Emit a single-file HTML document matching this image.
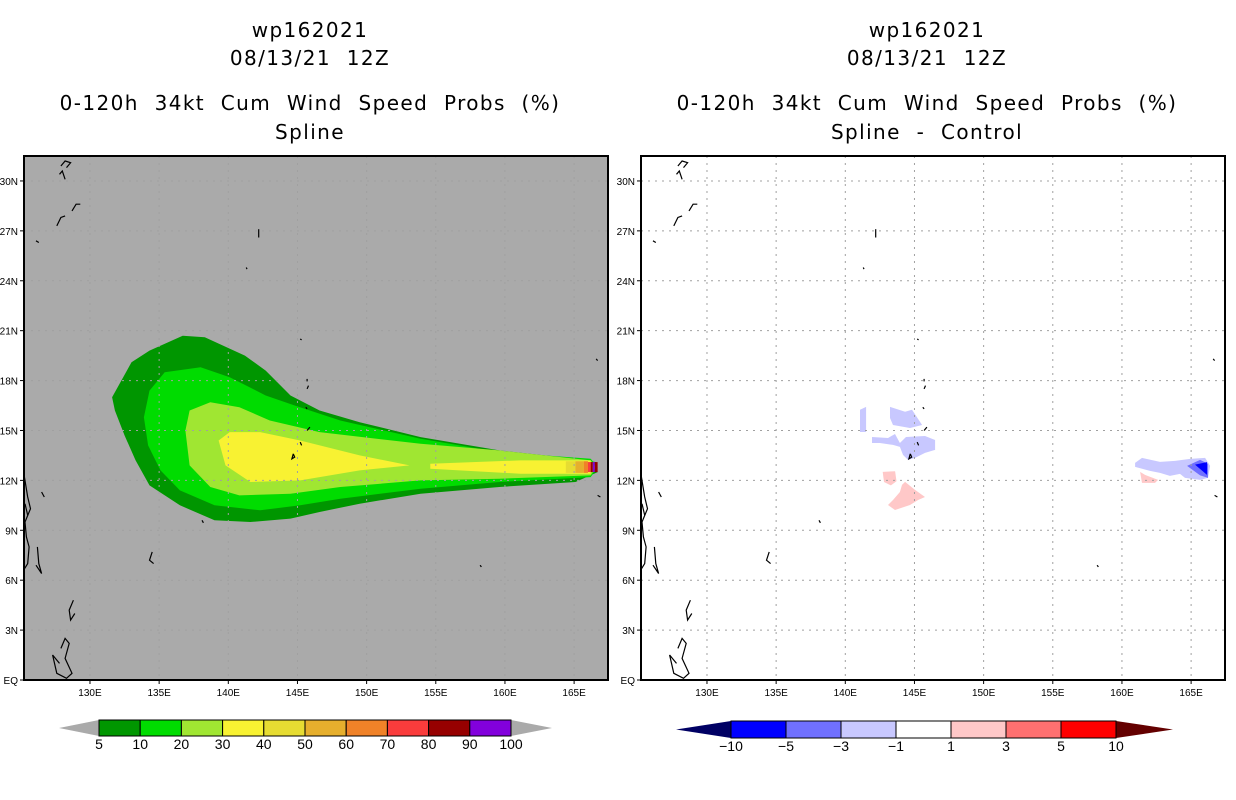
<!DOCTYPE html>
<html><head><meta charset="utf-8">
<style>
html,body{margin:0;padding:0;background:#fff;}
svg{display:block;font-family:"Liberation Sans",sans-serif;}
.title{font-family:"DejaVu Sans","Liberation Sans",sans-serif;font-size:20px;fill:#000;text-anchor:middle;letter-spacing:1.4px;word-spacing:8px;}
.tick{font-size:10px;fill:#000;}
.cbl{font-size:14px;fill:#000;text-anchor:middle;}
</style></head>
<body>
<svg id="chart" width="1236" height="800" viewBox="0 0 1236 800"></svg>
<script>
// ---- data ----
const lonTicks = [130,135,140,145,150,155,160,165];
const latTicks = [0,3,6,9,12,15,18,21,24,27,30];
const latLabels = ["EQ","3N","6N","9N","12N","15N","18N","21N","24N","27N","30N"];
const probLevels = ["5","10","20","30","40","50","60","70","80","90","100"];
const probColors = ["#009600","#00dc00","#a0e632","#f8f232","#e6dc32","#e6af2d","#f08228","#fa3c3c","#960000","#8200dc"];
const diffLevels = ["-10","-5","-3","-1","1","3","5","10"];
const diffColors = ["#0000ff","#7070ff","#c8c8ff","#ffffff","#ffc8c8","#ff7070","#ff0000"];

// contour polygons (lon, lat)
const prob5Lon = [131.6,133.0,134.3,136.7,138.3,141.2,142.7,144.5,146.6,149.5,153.9,159.6,165.1,166.6,166.7,165.1,159.6,153.9,149.5,146.6,144.5,141.6,139.0,136.5,134.3,133.3,132.5,131.8];
const prob5Lat = [17.0,19.1,19.8,20.7,20.6,19.5,18.6,17.1,16.2,15.5,14.6,13.8,13.3,13.1,12.5,11.9,11.6,11.2,10.6,10.1,9.7,9.5,9.6,10.5,11.7,13.2,14.7,16.2];
const prob10Lon = [133.9,134.3,135.4,138.0,140.1,142.7,144.8,148.1,153.9,159.6,166.2,166.7,166.2,159.6,153.9,148.1,145.2,142.3,139.0,136.5,135.1,134.2];
const prob10Lat = [15.8,17.4,18.5,18.8,18.2,17.1,16.5,15.6,14.5,13.7,13.3,12.8,12.2,11.9,11.5,10.9,10.5,10.2,10.5,11.4,12.6,14.1];
const prob20Lon = [136.9,137.2,138.7,140.8,143.0,146.6,153.9,159.6,166.2,166.6,166.2,159.6,153.9,148.1,144.5,140.8,138.7,137.2];
const prob20Lat = [15.0,16.2,16.7,16.4,15.6,14.9,14.2,13.8,13.2,12.8,12.3,12.1,12.0,11.6,11.2,11.1,11.6,12.9];
const prob30aLon = [139.3,140.1,142.3,145.2,149.5,153.1,149.5,145.2,141.6,139.8];
const prob30aLat = [14.4,14.9,14.9,14.4,13.5,12.9,12.6,12.0,11.9,12.9];
const prob30bLon = [154.6,161.1,166.2,166.2,161.1,154.6];
const prob30bLat = [13.0,13.2,13.2,12.4,12.4,12.7];
// core bands near the end of the track: [lonStart, lonEnd, level index]
const coreLon0 = [164.4,165.1,165.7,166.0,166.2,166.35,166.5];
const coreLon1 = [165.1,165.7,166.0,166.2,166.35,166.5,166.7];
const coreLev  = [4,5,6,7,8,9,8];

// difference patches (lon, lat)
const dA_lon=[143.23,144.32,144.82,145.55,144.68,143.45,143.23]; const dA_lat=[16.42,16.12,16.24,15.33,15.15,15.33,15.75];
const dB_lon=[141.06,141.5,141.5,141.06]; const dB_lat=[16.24,16.42,14.91,14.91];
const dC_lon=[141.93,143.09,143.59,143.95,144.39,145.76,146.49,146.49,145.76,145.04,144.53,144.17,143.95,143.45,142.5,141.93];
const dC_lat=[14.61,14.55,14.79,14.25,14.61,14.67,14.43,13.83,13.65,13.35,13.23,13.53,14.01,14.13,14.25,14.25];
const dD_lon=[142.7,143.6,143.7,143.3,142.8]; const dD_lat=[12.51,12.55,11.95,11.7,11.9];
const dF_lon=[144.32,145.04,145.76,145.26,144.68,143.59,143.09,143.45,143.95,144.1]; const dF_lat=[11.91,11.43,11.0,10.82,10.52,10.22,10.52,10.82,11.3,11.73];
const dE_lon=[160.95,161.45,162.75,163.84,164.92,166.01,166.37,166.22,165.65,164.56,164.2,163.47,162.75,162.03,160.95];
const dE_lat=[13.05,13.35,13.11,13.17,13.29,13.35,12.87,12.15,12.03,12.15,12.39,12.27,12.45,12.57,12.81];
const dG_lon=[164.71,165.65,166.22,166.22,165.65]; const dG_lat=[12.87,13.23,13.0,12.15,12.3];
const dH_lon=[165.28,166.15,166.15]; const dH_lat=[12.95,13.1,12.33];
const dR_lon=[161.31,161.67,162.61,162.39,161.45]; const dR_lat=[12.51,12.33,12.03,11.85,11.85];

// ---- drawing ----
const NS="http://www.w3.org/2000/svg";
const svg=document.getElementById('chart');
function el(tag,attrs,parent){const e=document.createElementNS(NS,tag);for(const k in attrs)e.setAttribute(k,attrs[k]);(parent||svg).appendChild(e);return e;}
const PW=584, PH=524, PY=156, LON0=125.23, LON1=167.45, LAT0=0, LAT1=31.5;
function xS(ox,lon){return ox+(lon-LON0)/(LON1-LON0)*PW;}
function yS(lat){return PY+PH-(lat-LAT0)/(LAT1-LAT0)*PH;}
function poly(g,ox,lons,lats,fill,name){
  const p=el('polygon',{points:lons.map((l,i)=>xS(ox,l).toFixed(1)+','+yS(lats[i]).toFixed(1)).join(' '),fill:fill},g);
  
  
  return p;
}
const coasts=[
 [[127.9,30.9],[128.2,31.2],[128.6,31.1],[128.3,30.8]],[[127.8,30.4],[128.0,30.6],[128.2,30.1]],
 [[128.7,28.2],[129.0,28.6],[129.3,28.6]],[[127.6,27.3],[127.9,27.8],[128.2,27.9]],[[126.1,26.4],[126.3,26.3]],
 [[142.2,27.1],[142.2,26.6]],[[141.3,24.8],[141.35,24.7]],
 [[125.2,12.5],[125.5,11.0],[125.7,10.3],[125.3,9.5],[125.4,8.6],[125.6,8.0],[125.5,7.0],[125.2,6.6]],
 [[126.2,8.0],[126.3,7.0],[126.5,6.4],[126.1,6.9]],[[126.5,11.3],[126.7,11.0]],[[125.3,10.6],[125.5,9.9]],
 [[128.8,4.8],[128.5,4.2],[128.6,3.6],[128.9,4.0]],
 [[127.9,1.9],[128.2,2.5],[128.5,2.2],[128.2,1.3],[128.7,0.4],[128.3,0.1],[127.6,0.4],[127.3,1.5],[127.8,1.0]],
 [[134.5,7.7],[134.3,7.2],[134.6,7.0]],[[138.1,9.6],[138.2,9.45]],
 [[144.7,13.6],[144.8,13.4],[144.6,13.3],[144.7,13.6]],[[145.2,14.3],[145.3,14.1]],[[145.7,15.0],[145.9,15.2]],
 [[145.6,16.4],[145.7,16.3]],[[145.7,17.5],[145.8,17.7]],[[145.7,18.1],[145.7,17.95]],[[145.2,20.5],[145.3,20.45]],
 [[166.6,19.3],[166.7,19.2]],[[158.2,6.9],[158.3,6.8]],[[166.7,11.1],[166.9,11.0]]
];
function panel(ox,gray,name){
  const g=el('g',{});
  
  
  el('rect',{x:ox,y:PY,width:PW,height:PH,fill:gray?'#aaaaaa':'#ffffff'},g);
  return g;
}
function finish(g,ox){
  lonTicks.forEach(l=>{const x=xS(ox,l);el('line',{x1:x,y1:PY,x2:x,y2:PY+PH,stroke:'#a0a0a0','stroke-width':1,'stroke-dasharray':'2,5'},g);});
  latTicks.forEach(l=>{if(l===0)return;const y=yS(l);el('line',{x1:ox,y1:y,x2:ox+PW,y2:y,stroke:'#a0a0a0','stroke-width':1,'stroke-dasharray':'2,5'},g);});
  coasts.forEach(c=>{const p=el('polyline',{points:c.map(q=>xS(ox,q[0]).toFixed(1)+','+yS(q[1]).toFixed(1)).join(' '),fill:'none',stroke:'#000','stroke-width':1.2},g);
    });
  el('rect',{x:ox,y:PY,width:PW,height:PH,fill:'none',stroke:'#000','stroke-width':2},g);
  lonTicks.forEach(l=>{const x=xS(ox,l);el('line',{x1:x,y1:PY+PH,x2:x,y2:PY+PH+4,stroke:'#000'},g);
    const t=el('text',{x:x,y:PY+PH+16,class:'tick','text-anchor':'middle'},g);t.textContent=l+'E';
    });
  latTicks.forEach((l,i)=>{const y=yS(l);el('line',{x1:ox-4,y1:y,x2:ox,y2:y,stroke:'#000'},g);
    const t=el('text',{x:ox-6,y:y+4,class:'tick','text-anchor':'end'},g);t.textContent=latLabels[i];
    });
}
const L=24;
const gl=panel(L,true,'spline-panel');
poly(gl,L,prob5Lon,prob5Lat,probColors[0],'prob-5');
poly(gl,L,prob10Lon,prob10Lat,probColors[1],'prob-10');
poly(gl,L,prob20Lon,prob20Lat,probColors[2],'prob-20');
poly(gl,L,prob30aLon,prob30aLat,probColors[3],'prob-30');
poly(gl,L,prob30bLon,prob30bLat,probColors[3],'prob-30-tail');
coreLev.forEach((lv,i)=>{const x0=xS(L,coreLon0[i]),x1=xS(L,coreLon1[i]);const half=(i<3?0.35:0.3);
  const r=el('rect',{x:x0,y:yS(12.8+half),width:x1-x0,height:yS(12.8-half)-yS(12.8+half),fill:probColors[lv]},gl);
  });
finish(gl,L);
const R=641;
const gr=panel(R,false,'difference-panel');
poly(gr,R,dA_lon,dA_lat,diffColors[2],'diff-neg-a');
poly(gr,R,dB_lon,dB_lat,diffColors[2],'diff-neg-b');
poly(gr,R,dC_lon,dC_lat,diffColors[2],'diff-neg-c');
poly(gr,R,dD_lon,dD_lat,diffColors[4],'diff-pos-d');
poly(gr,R,dF_lon,dF_lat,diffColors[4],'diff-pos-f');
poly(gr,R,dE_lon,dE_lat,diffColors[2],'diff-neg-east');
poly(gr,R,dG_lon,dG_lat,diffColors[1],'diff-neg-east-mid');
poly(gr,R,dH_lon,dH_lat,diffColors[0],'diff-neg-east-core');
poly(gr,R,dR_lon,dR_lat,diffColors[4],'diff-pos-east');
finish(gr,R);

function title(cx,lines){lines.forEach((s,i)=>{const t=el('text',{x:cx,y:[37,65,110,139][i],class:'title'});t.textContent=s;
  });}
title(310,['wp162021','08/13/21 12Z','0-120h 34kt Cum Wind Speed Probs (%)','Spline']);
title(927,['wp162021','08/13/21 12Z','0-120h 34kt Cum Wind Speed Probs (%)','Spline - Control']);

function colorbar(x0,x1,tl,tr,y0,y1,colors,leftTri,rightTri,labels,name){
  const g=el('g',{});
  
  
  const ym=(y0+y1)/2, w=(x1-x0)/colors.length;
  el('polygon',{points:`${tl},${ym} ${x0},${y0} ${x0},${y1}`,fill:leftTri},g);
  el('polygon',{points:`${tr},${ym} ${x1},${y0} ${x1},${y1}`,fill:rightTri},g);
  colors.forEach((c,i)=>{const r=el('rect',{x:x0+i*w,y:y0,width:w,height:y1-y0,fill:c,stroke:'#000','stroke-width':1},g);
    });
  labels.forEach((s,i)=>{const t=el('text',{x:x0+i*w,y:y1+13,class:'cbl'},g);t.textContent=s.replace('-','\u2212');
    });
}
colorbar(99,511,59,552,720,736,probColors,'#aaaaaa','#aaaaaa',probLevels,'prob-colorbar');
colorbar(731,1116,676,1173,721,738,diffColors,'#000064','#640000',diffLevels,'diff-colorbar');
</script>
</body></html>
